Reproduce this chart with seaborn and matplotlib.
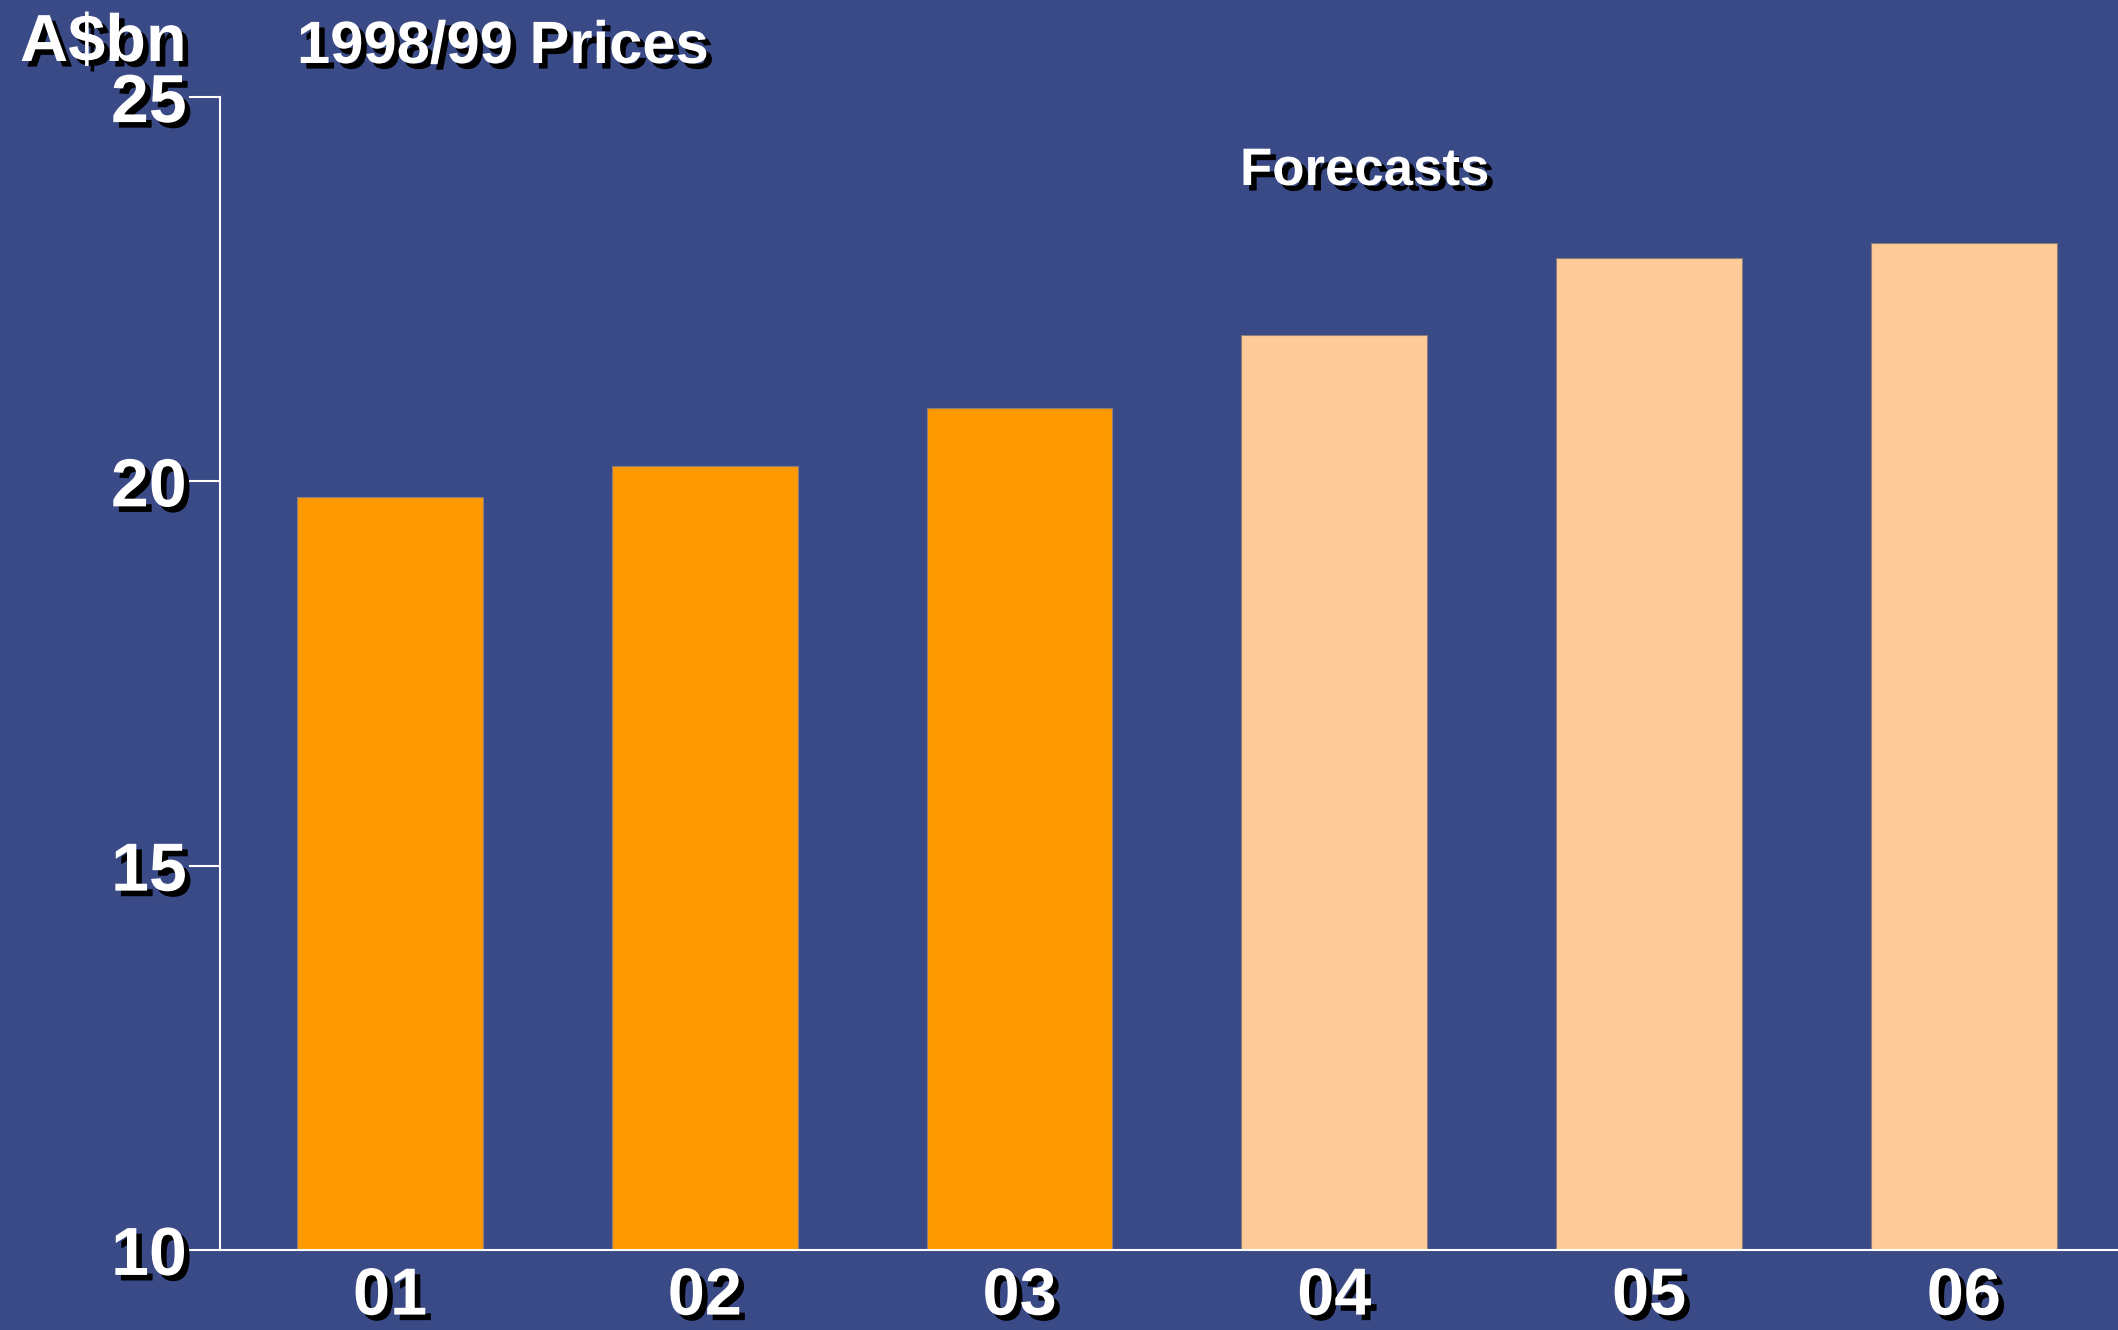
import matplotlib
matplotlib.use('Agg')
import matplotlib.pyplot as plt
import matplotlib.patheffects as pe
import pandas as pd
import seaborn as sns

# data
years = ['01', '02', '03', '04', '05', '06']
values = [19.8, 20.2, 20.95, 21.9, 22.9, 23.1]
kind = ['actual', 'actual', 'actual', 'forecast', 'forecast', 'forecast']

bg = '#394A87'
palette = {'actual': '#FF9900', 'forecast': '#FFCC99'}

sns.set_theme(style='white')
plt.rcParams['font.family'] = ['Liberation Sans', 'DejaVu Sans']
plt.rcParams['font.weight'] = 'bold'

df = pd.DataFrame({'year': years, 'value': values, 'kind': kind})

fig = plt.figure(figsize=(21.18, 13.3), dpi=100, facecolor=bg)
ax = fig.add_axes([0.1039, 0.0602, 0.8961, 0.8668])
ax.set_facecolor(bg)

sns.barplot(data=df, x='year', y='value', hue='kind', palette=palette, dodge=False,
            saturation=1, width=0.59, edgecolor='#8a7f78', linewidth=0.8,
            legend=False, ax=ax)

ax.set_ylim(10, 25)
ax.set_xlim(-0.54, 5.49)
ax.set_yticks([10, 15, 20, 25])
ax.set_xlabel('')
ax.set_ylabel('')

for s in ['top', 'right']:
    ax.spines[s].set_visible(False)
for s in ['left', 'bottom']:
    ax.spines[s].set_color('white')
    ax.spines[s].set_linewidth(1.5)

ax.tick_params(axis='y', left=True, length=22, width=1.5, color='white', pad=2,
               labelsize=49, labelcolor='white')
ax.tick_params(axis='x', bottom=False, length=0, pad=12, labelsize=48, labelcolor='white')

shadow = [pe.withSimplePatchShadow(offset=(4, -4), shadow_rgbFace='black', alpha=1.0)]
for lab in ax.get_xticklabels() + ax.get_yticklabels():
    lab.set_fontweight('bold')
    lab.set_path_effects(shadow)

fig.text(20 / 2118, 1 - 61 / 1330, 'A$bn', color='white', fontsize=48,
         fontweight='bold', path_effects=shadow)
fig.text(297 / 2118, 1 - 63 / 1330, '1998/99 Prices', color='white', fontsize=43,
         fontweight='bold', path_effects=shadow)
fig.text(1240 / 2118, 1 - 185 / 1330, 'Forecasts', color='white', fontsize=38,
         fontweight='bold', path_effects=shadow)

fig.savefig('out.png', dpi=100, facecolor=bg)
